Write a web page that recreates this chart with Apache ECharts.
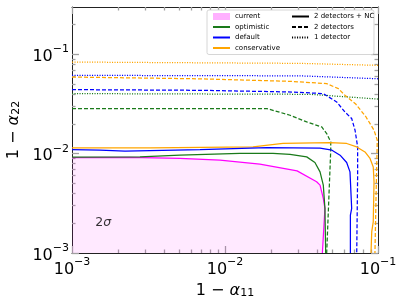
<!DOCTYPE html>
<html><head><meta charset="utf-8">
<script src="https://cdn.jsdelivr.net/npm/echarts@6/dist/echarts.min.js"></script>
<style>html,body{margin:0;padding:0;background:#fff}#c{width:407px;height:305px}</style>
</head><body><div id="c"></div>
<script>
// ---- data ----
const xMajorTicks = [0.001, 0.01, 0.1];
const xMinorTicks = [0.002,0.003,0.004,0.005,0.006,0.007,0.008,0.009,0.02,0.03,0.04,0.05,0.06,0.07,0.08,0.09];
const yMajorTicks = [0.001, 0.01, 0.1];
const yMinorTicks = [0.002,0.003,0.004,0.005,0.006,0.007,0.008,0.009,0.02,0.03,0.04,0.05,0.06,0.07,0.08,0.09,0.2];

const currentX = [0.001, 0.00239, 0.00508, 0.00927, 0.0169, 0.0296, 0.0397, 0.0418, 0.0439, 0.0450, 0.0433];
const currentY = [0.00912, 0.00916, 0.00895, 0.00861, 0.00784, 0.00671, 0.00521, 0.00482, 0.00355, 0.00281, 0.001];

const optimisticNCX = [0.001, 0.00278, 0.00508, 0.0125, 0.0206, 0.0266, 0.0342, 0.0387, 0.0418, 0.0439, 0.0450, 0.0455];
const optimisticNCY = [0.00922, 0.00929, 0.00966, 0.01005, 0.01005, 0.00982, 0.00929, 0.00816, 0.00656, 0.00482, 0.00281, 0.001];
const defaultNCX = [0.001, 0.00152, 0.00222, 0.00324, 0.00687, 0.0188, 0.0418, 0.0500, 0.0565, 0.0624, 0.0656, 0.0673, 0.0660, 0.0660];
const defaultNCY = [0.01097, 0.01084, 0.01059, 0.01072, 0.01097, 0.01149, 0.01136, 0.01084, 0.00966, 0.00816, 0.00656, 0.00281, 0.00241, 0.001];
const conservativeNCX = [0.001, 0.00324, 0.01524, 0.02393, 0.0486, 0.0624, 0.0726, 0.0822, 0.0887, 0.0931, 0.0942, 0.0931, 0.0910, 0.0900];
const conservativeNCY = [0.01143, 0.01143, 0.0117, 0.01267, 0.0129, 0.01267, 0.0117, 0.01042, 0.00895, 0.00736, 0.00521, 0.00206, 0.00164, 0.001];

const optimistic2X = [0.001, 0.0188, 0.0266, 0.0342, 0.0429, 0.0462, 0.0491, 0.0491, 0.0462];
const optimistic2Y = [0.02846, 0.02846, 0.02438, 0.02088, 0.01858, 0.01596, 0.01314, 0.01084, 0.001];
const default2X = [0.001, 0.00687, 0.0278, 0.0439, 0.0537, 0.0608, 0.0673, 0.0708, 0.0736, 0.0736, 0.0726];
const default2Y = [0.04416, 0.04348, 0.04178, 0.04027, 0.03317, 0.0263, 0.02259, 0.01722, 0.0117, 0.00608, 0.001];
const conservative2X = [0.001, 0.00687, 0.0266, 0.0462, 0.0551, 0.0608, 0.0718, 0.0835, 0.0942, 0.0989, 0.0970, 0.0955];
const conservative2Y = [0.05913, 0.05675, 0.05355, 0.0507, 0.04519, 0.03873, 0.0314, 0.02344, 0.01722, 0.01367, 0.00341, 0.001];

const optimistic1X = [0.001, 0.0359, 0.1];
const optimistic1Y = [0.04027, 0.03963, 0.0355];
const default1X = [0.001, 0.0309, 0.1];
const default1Y = [0.0615, 0.0608, 0.0568];
const conservative1X = [0.001, 0.0309, 0.1];
const conservative1Y = [0.0837, 0.0812, 0.0775];

const annotX = [0.0016];
const annotY = [0.002];
const annotText = ['2σ'];

const legendColorNames = ['current', 'optimistic', 'default', 'conservative'];
const legendStyleNames = ['2 detectors + NC', '2 detectors', '1 detector'];

// ---- build ----
const FONT = 'DejaVu Sans';
const C_PINK = '#ff00ff', C_GREEN = '#1a7a1a', C_BLUE = '#0000ff', C_ORANGE = '#ffa500';
const DASH = [4, 2], DOT = [1.1, 1.4];
const pairs = (xs, ys) => xs.map((x, i) => [x, ys[i]]);

function lineSeries(name, xs, ys, color, type, extra) {
  return Object.assign({
    name, type: 'line', data: pairs(xs, ys), xAxisIndex: 0, yAxisIndex: 0,
    symbol: 'none', color: color, animation: false, silent: true,
    lineStyle: { color: color, width: 1.25, type: type }
  }, extra || {});
}

const supRich = {
  b: { fontSize: 16, lineHeight: 21, verticalAlign: 'bottom', fontFamily: FONT, color: '#000' },
  s: { fontSize: 11, lineHeight: 9, verticalAlign: 'top', fontFamily: FONT, color: '#000' }
};
const expFmt = v => { const e = Math.round(Math.log10(v)); return '{b|10}{s|' + (e < 0 ? '\u2212' + (-e) : e) + '}'; };
const nameRich = {
  t: { fontSize: 16, lineHeight: 20, verticalAlign: 'bottom', fontFamily: FONT, color: '#000' },
  a: { fontSize: 16, lineHeight: 20, verticalAlign: 'bottom', fontStyle: 'italic', fontFamily: FONT, color: '#000' },
  u: { fontSize: 11, lineHeight: 9, verticalAlign: 'bottom', fontFamily: FONT, color: '#000' }
};

function mkAxis(kind, pos, major, withLabel, min, max, ticks, extra) {
  return Object.assign({
    type: 'log', logBase: 10, min, max, position: pos,
    axisLine: { show: major, onZero: false, lineStyle: { color: '#222', width: 1 } },
    axisTick: { show: true, inside: true, length: major ? 7 : 3.5, customValues: ticks,
      lineStyle: { color: '#a0a0a0', width: 1.3 } },
    axisLabel: withLabel ? { show: true, customValues: ticks, formatter: expFmt, rich: supRich, margin: kind === 'x' ? 4 : 3 } : { show: false },
    splitLine: { show: false }, minorTick: { show: false }, minorSplitLine: { show: false }
  }, extra || {});
}

const xAxes = [
  mkAxis('x', 'bottom', true, true, 0.001, 0.1, xMajorTicks, {
    name: '{t|1 \u2212 }{a|α}{u|11}', nameLocation: 'middle', nameGap: 19,
    nameTextStyle: { rich: nameRich }
  }),
  mkAxis('x', 'bottom', false, false, 0.001, 0.1, xMinorTicks),
  mkAxis('x', 'top', true, false, 0.001, 0.1, xMajorTicks),
  mkAxis('x', 'top', false, false, 0.001, 0.1, xMinorTicks)
];
const yAxes = [
  mkAxis('y', 'left', true, true, 0.001, 0.3, yMajorTicks, {
    name: '{t|1 \u2212 }{a|α}{u|22}', nameLocation: 'middle', nameGap: 44, nameRotate: 90,
    nameTextStyle: { rich: nameRich }
  }),
  mkAxis('y', 'left', false, false, 0.001, 0.3, yMinorTicks),
  mkAxis('y', 'right', true, false, 0.001, 0.3, yMajorTicks),
  mkAxis('y', 'right', false, false, 0.001, 0.3, yMinorTicks)
];

const series = [
  lineSeries('current', currentX, currentY, C_PINK, 'solid', {
    areaStyle: { color: 'rgba(255,0,255,0.12)', origin: 'start' }, z: 1
  }),
  lineSeries('optimistic 1 detector', optimistic1X, optimistic1Y, C_GREEN, DOT),
  lineSeries('default 1 detector', default1X, default1Y, C_BLUE, DOT),
  lineSeries('conservative 1 detector', conservative1X, conservative1Y, C_ORANGE, DOT),
  lineSeries('optimistic 2 detectors', optimistic2X, optimistic2Y, C_GREEN, DASH),
  lineSeries('default 2 detectors', default2X, default2Y, C_BLUE, DASH),
  lineSeries('conservative 2 detectors', conservative2X, conservative2Y, C_ORANGE, DASH),
  lineSeries('conservative', conservativeNCX, conservativeNCY, C_ORANGE, 'solid'),
  lineSeries('default', defaultNCX, defaultNCY, C_BLUE, 'solid'),
  lineSeries('optimistic', optimisticNCX, optimisticNCY, C_GREEN, 'solid'),
  // legend-only style entries
  { name: legendStyleNames[0], type: 'line', data: [], symbol: 'none', color: '#000', lineStyle: { color: '#000', width: 1.2, type: 'solid' } },
  { name: legendStyleNames[1], type: 'line', data: [], symbol: 'none', color: '#000', lineStyle: { color: '#000', width: 1.2, type: DASH } },
  { name: legendStyleNames[2], type: 'line', data: [], symbol: 'none', color: '#000', lineStyle: { color: '#000', width: 1.2, type: DOT } },
  {
    name: 'annot', type: 'scatter', data: pairs(annotX, annotY), symbolSize: 0, silent: true,
    label: { show: true, position: 'inside', formatter: p => '{n|2}{g|σ}',
      rich: { n: { fontSize: 12.5, fontFamily: FONT, color: '#000' }, g: { fontSize: 12.5, fontStyle: 'italic', fontFamily: FONT, color: '#000' } } }
  }
];

const legendColorData = legendColorNames.map((n, i) => {
  const d = { name: n };
  if (i === 0) { d.icon = 'rect'; d.itemStyle = { color: '#ffb0ff', opacity: 1, borderWidth: 0 }; }
  return d;
});
const legendStyleData = legendStyleNames.map(n => ({ name: n }));
const legendCommon = {
  orient: 'vertical', top: 10, itemGap: 3.5, itemWidth: 17, itemHeight: 7,
  selectedMode: false,
  textStyle: { fontSize: 7, color: '#000', fontFamily: FONT },
  itemStyle: { opacity: 0 }
};

const chart = echarts.init(document.getElementById('c'), null, { renderer: 'canvas' });
chart.setOption({
  animation: false,
  backgroundColor: '#fff',
  grid: { left: 72, right: 29, top: 7, bottom: 52, containLabel: false, outerBoundsMode: 'none' },
  xAxis: xAxes,
  yAxis: yAxes,
  legend: [
    Object.assign({}, legendCommon, {
      left: 207, padding: [3, 94, 3, 5], z: 4,
      backgroundColor: '#fff', borderColor: '#cccccc', borderWidth: 0.8, borderRadius: 2,
      data: legendColorData
    }),
    Object.assign({}, legendCommon, {
      left: 286, padding: [3, 3, 3, 5], z: 5,
      data: legendStyleData
    })
  ],
  series: series
});
</script></body></html>
